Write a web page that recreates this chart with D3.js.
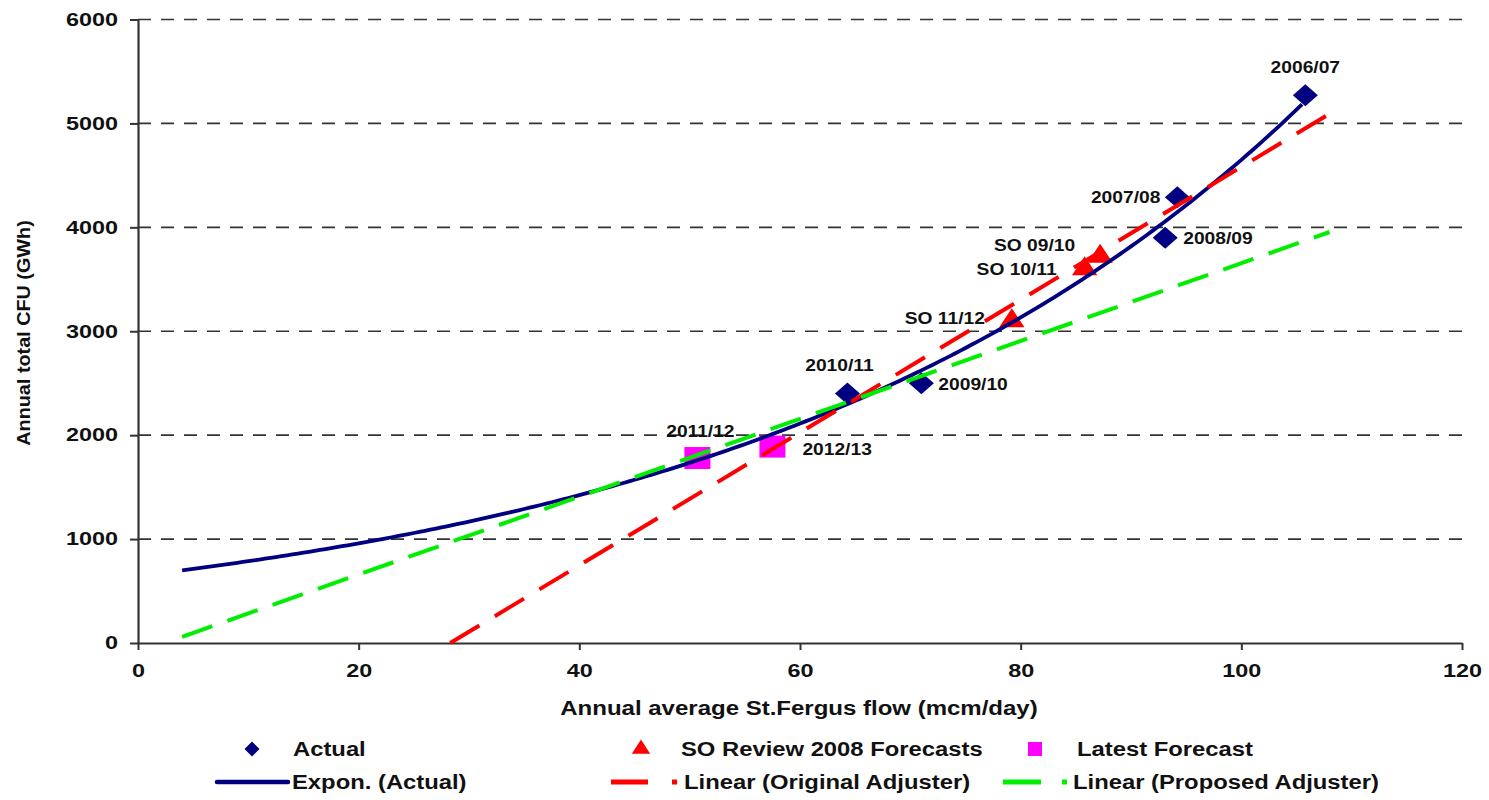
<!DOCTYPE html>
<html>
<head>
<meta charset="utf-8">
<script src="https://cdn.jsdelivr.net/npm/d3@7/dist/d3.min.js"></script>
<style>
  body { margin: 0; background: #fff; }
  svg text { font-family: "Liberation Sans", Arial, sans-serif; font-weight: bold; fill: #111; }
</style>
</head>
<body>
<div id="chart"></div>
<script>
// Actual (diamonds)
const actualLabels = ["2006/07", "2007/08", "2008/09", "2009/10", "2010/11"];
const actualFlow   = [105.8, 94.2, 93.1, 71.0, 64.3];
const actualCFU    = [5270, 4290, 3900, 2500, 2400];

// SO Review 2008 forecasts (triangles)
const soLabels = ["SO 09/10", "SO 10/11", "SO 11/12"];
const soFlow   = [87.2, 85.8, 79.2];
const soCFU    = [3720, 3600, 3100];

// Latest forecast (squares)
const latestLabels = ["2011/12", "2012/13"];
const latestFlow   = [50.7, 57.5];
const latestCFU    = [1780, 1890];

// Adjuster lines, read as end points
const originalAdjFlow = [28.3, 107.8];
const originalAdjCFU  = [0, 5080];
const proposedAdjFlow = [4.0, 108.0];
const proposedAdjCFU  = [60, 3955];

// exponential trend drawn back to this flow
const exponFrom = 4.0;

const xTicks = [0, 20, 40, 60, 80, 100, 120];
const yTicks = [0, 1000, 2000, 3000, 4000, 5000, 6000];

const width = 1489, height = 800;
const margin = { left: 138, right: 27, top: 19.5, bottom: 157 };

const svg = d3.select("#chart").append("svg")
    .attr("width", width)
    .attr("height", height);

const x = d3.scaleLinear().domain([0, 120]).range([margin.left, width - margin.right]);
const y = d3.scaleLinear().domain([0, 6000]).range([height - margin.bottom, margin.top]);

// the source picture is a bit stretched sideways, so widen text to match
function stretch(sel, k) {
    sel.each(function() {
        const len = this.getComputedTextLength();
        d3.select(this).attr("textLength", len * k).attr("lengthAdjust", "spacingAndGlyphs");
    });
}

// diamond as a rotated square, a bit wider than tall
function diamondPath(w, h) {
    return "M" + (-w) + ",0L0," + (-h) + "L" + w + ",0L0," + h + "Z";
}

// grid
svg.append("g").selectAll("line")
    .data(yTicks.filter(d => d > 0))
  .enter().append("line")
    .attr("x1", x(0)).attr("x2", x(120))
    .attr("y1", d => y(d)).attr("y2", d => y(d))
    .attr("stroke", "#333").attr("stroke-width", 1.6)
    .attr("stroke-dasharray", "13,10");

// axes
const yAxis = svg.append("g")
    .attr("transform", "translate(" + x(0) + ",0)")
    .call(d3.axisLeft(y).tickValues(yTicks).tickFormat(d3.format("d"))
        .tickSize(8).tickPadding(12).tickSizeOuter(0));
const xAxis = svg.append("g")
    .attr("transform", "translate(0," + y(0) + ")")
    .call(d3.axisBottom(x).tickValues(xTicks).tickSize(7).tickPadding(14).tickSizeOuter(0));
[xAxis, yAxis].forEach(a => {
    a.select(".domain").attr("stroke", "#333").attr("stroke-width", 2.2);
    a.selectAll(".tick line").attr("stroke", "#333").attr("stroke-width", 2);
    a.selectAll(".tick text").style("font-size", "18px").attr("fill", "#111");
    stretch(a.selectAll(".tick text"), 1.3);
});

const xTitle = svg.append("text")
    .attr("x", 799).attr("y", 715)
    .attr("text-anchor", "middle")
    .style("font-size", "20px")
    .text("Annual average St.Fergus flow (mcm/day)");
stretch(xTitle, 1.2);

const yTitle = svg.append("text")
    .attr("transform", "translate(30,333) rotate(-90)")
    .attr("text-anchor", "middle")
    .style("font-size", "18px")
    .text("Annual total CFU (GWh)");
stretch(yTitle, 1.1);

const triangle = d3.symbol().type(d3.symbolTriangle);

const actual = actualFlow.map((f, i) => ({ x: f, y: actualCFU[i], label: actualLabels[i] }));
const so = soFlow.map((f, i) => ({ x: f, y: soCFU[i], label: soLabels[i] }));
const latest = latestFlow.map((f, i) => ({ x: f, y: latestCFU[i], label: latestLabels[i] }));

// markers
svg.append("g").selectAll("path")
    .data(actual)
  .enter().append("path")
    .attr("d", diamondPath(12.5, 11))
    .attr("transform", d => "translate(" + x(d.x) + "," + y(d.y) + ")")
    .attr("fill", "#000080");

svg.append("g").selectAll("path")
    .data(so)
  .enter().append("path")
    .attr("d", triangle.size(210))
    .attr("transform", d => "translate(" + x(d.x) + "," + y(d.y) + ") scale(1.15,1)")
    .attr("fill", "#ff0000");

svg.append("g").selectAll("rect")
    .data(latest)
  .enter().append("rect")
    .attr("x", d => x(d.x) - 13).attr("y", d => y(d.y) - 11)
    .attr("width", 26).attr("height", 22)
    .attr("fill", "#ff00ff");

// exponential fit of the actual points (least squares on ln y)
const lx = d3.mean(actualFlow), ly = d3.mean(actualCFU, v => Math.log(v));
const b = d3.sum(actualFlow, (f, i) => (f - lx) * (Math.log(actualCFU[i]) - ly)) /
          d3.sum(actualFlow, f => (f - lx) * (f - lx));
const a = Math.exp(ly - b * lx);
const exponPts = d3.range(exponFrom, d3.max(actualFlow) + 0.01, 0.5).map(f => [f, a * Math.exp(b * f)]);

const line = d3.line().x(d => x(d[0])).y(d => y(d[1]));

svg.append("path")
    .attr("d", line(exponPts))
    .attr("fill", "none").attr("stroke", "#000080").attr("stroke-width", 3.8);

svg.append("path")
    .attr("d", line(originalAdjFlow.map((f, i) => [f, originalAdjCFU[i]])))
    .attr("fill", "none").attr("stroke", "#ff0000").attr("stroke-width", 4)
    .attr("stroke-dasharray", "34,18");

svg.append("path")
    .attr("d", line(proposedAdjFlow.map((f, i) => [f, proposedAdjCFU[i]])))
    .attr("fill", "none").attr("stroke", "#00ee00").attr("stroke-width", 4)
    .attr("stroke-dasharray", "32,16");

// point labels
const labelPos = {
    "2006/07": [0, -22, "middle"], "2007/08": [-17, 6, "end"], "2008/09": [18, 6, "start"],
    "2009/10": [17, 7, "start"], "2010/11": [-8, -23, "middle"],
    "SO 09/10": [-25, -5, "end"], "SO 10/11": [-28, 6, "end"], "SO 11/12": [-27, 3, "end"],
    "2011/12": [3, -21, "middle"], "2012/13": [30, 8, "start"]
};
const ptLabels = svg.append("g").selectAll("text")
    .data(actual.concat(so, latest))
  .enter().append("text")
    .attr("x", d => x(d.x) + labelPos[d.label][0])
    .attr("y", d => y(d.y) + labelPos[d.label][1])
    .attr("text-anchor", d => labelPos[d.label][2])
    .style("font-size", "16px")
    .text(d => d.label);
stretch(ptLabels, 1.2);

// legend
const leg = svg.append("g").style("font-size", "20px");
const row1 = 749, row2 = 782;
leg.append("path").attr("d", diamondPath(7.5, 7.5)).attr("transform", "translate(252," + row1 + ")").attr("fill", "#000080");
leg.append("text").attr("x", 293).attr("y", row1 + 7).text("Actual");
leg.append("path").attr("d", triangle.size(120)).attr("transform", "translate(641," + row1 + ") scale(1.1,1)").attr("fill", "#ff0000");
leg.append("text").attr("x", 681).attr("y", row1 + 7).text("SO Review 2008 Forecasts");
leg.append("rect").attr("x", 1028).attr("y", row1 - 7).attr("width", 14).attr("height", 14).attr("fill", "#ff00ff");
leg.append("text").attr("x", 1077).attr("y", row1 + 7).text("Latest Forecast");

leg.append("line").attr("x1", 217).attr("x2", 288).attr("y1", row2).attr("y2", row2)
    .attr("stroke", "#000080").attr("stroke-width", 4.5).attr("stroke-linecap", "round");
leg.append("text").attr("x", 292).attr("y", row2 + 7).text("Expon. (Actual)");
leg.append("line").attr("x1", 611).attr("x2", 680).attr("y1", row2).attr("y2", row2)
    .attr("stroke", "#ff0000").attr("stroke-width", 5).attr("stroke-dasharray", "37,24,5,100");
leg.append("text").attr("x", 684).attr("y", row2 + 7).text("Linear (Original Adjuster)");
leg.append("line").attr("x1", 1003).attr("x2", 1070).attr("y1", row2).attr("y2", row2)
    .attr("stroke", "#00ee00").attr("stroke-width", 5).attr("stroke-dasharray", "38,21,5,100");
leg.append("text").attr("x", 1073).attr("y", row2 + 7).text("Linear (Proposed Adjuster)");
stretch(leg.selectAll("text"), 1.19);
</script>
</body>
</html>
